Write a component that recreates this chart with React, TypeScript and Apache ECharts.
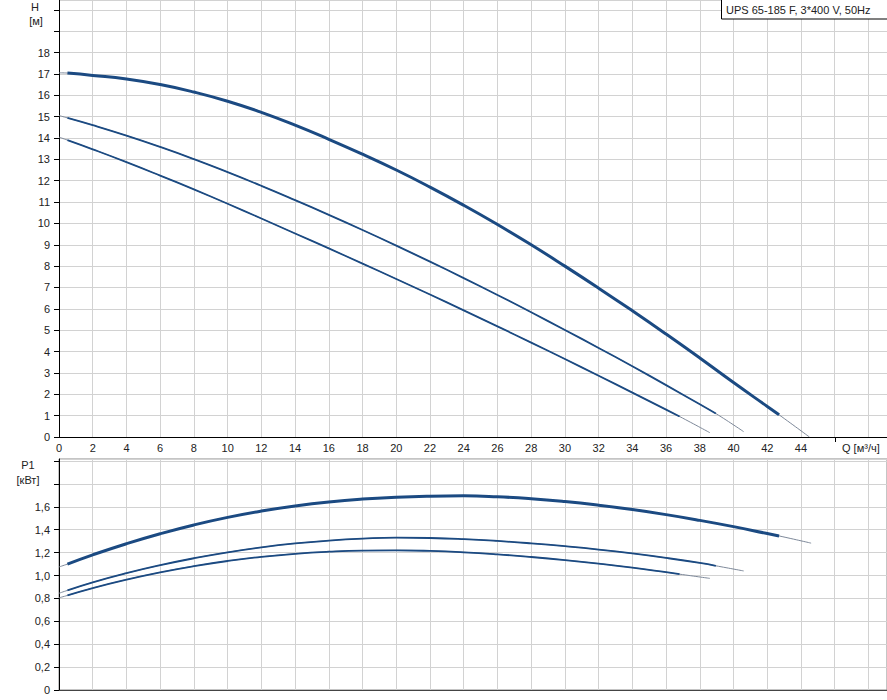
import React, { useEffect, useRef } from 'react';
import * as echarts from 'echarts';

// ---- data ----
const qH1 = [0, 0.5, 2, 4, 6, 8, 10, 12, 14, 16, 18, 20, 22, 24, 26, 28, 30, 32, 34, 36, 38, 40, 42, 42.7, 44.5];
const h1 = [17.05, 17.04, 16.93, 16.76, 16.5, 16.15, 15.72, 15.2, 14.6, 13.94, 13.24, 12.5, 11.7, 10.85, 9.95, 9.0, 8.0, 6.97, 5.91, 4.82, 3.7, 2.55, 1.43, 1.04, 0];

const qH2 = [0, 0.5, 2, 4, 6, 8, 10, 12, 14, 16, 18, 20, 22, 24, 26, 28, 30, 32, 34, 36, 38, 38.95, 40.6];
const h2 = [15.05, 14.94, 14.6, 14.11, 13.58, 13.01, 12.4, 11.76, 11.09, 10.4, 9.69, 8.96, 8.21, 7.44, 6.65, 5.84, 5.01, 4.17, 3.31, 2.43, 1.53, 1.1, 0.25];

const qH3 = [0, 0.5, 2, 4, 6, 8, 10, 12, 14, 16, 18, 20, 22, 24, 26, 28, 30, 32, 34, 36, 36.8, 38.6];
const h3 = [14.04, 13.9, 13.47, 12.87, 12.24, 11.59, 10.92, 10.23, 9.53, 8.83, 8.12, 7.4, 6.67, 5.93, 5.18, 4.42, 3.65, 2.87, 2.08, 1.28, 0.96, 0.2];

const qP1 = [0, 0.5, 2, 4, 6, 8, 10, 12, 14, 16, 18, 20, 22, 24, 26, 28, 30, 32, 34, 36, 38, 40, 42, 42.7, 44.6];
const p1 = [1.075, 1.1, 1.181, 1.278, 1.365, 1.442, 1.508, 1.563, 1.608, 1.643, 1.668, 1.684, 1.693, 1.696, 1.688, 1.671, 1.646, 1.614, 1.576, 1.532, 1.482, 1.427, 1.367, 1.346, 1.283];

const qP2 = [0, 0.5, 2, 4, 6, 8, 10, 12, 14, 16, 18, 20, 22, 24, 26, 28, 30, 32, 34, 36, 38, 38.95, 40.6];
const p2 = [0.845, 0.87, 0.94, 1.02, 1.09, 1.151, 1.203, 1.246, 1.28, 1.305, 1.322, 1.331, 1.328, 1.318, 1.302, 1.281, 1.256, 1.227, 1.193, 1.154, 1.11, 1.085, 1.04];

const qP3 = [0, 0.5, 2, 4, 6, 8, 10, 12, 14, 16, 18, 20, 22, 24, 26, 28, 30, 32, 34, 36, 36.8, 38.6];
const p3 = [0.805, 0.826, 0.89, 0.964, 1.028, 1.082, 1.127, 1.163, 1.19, 1.208, 1.218, 1.22, 1.215, 1.203, 1.185, 1.162, 1.135, 1.104, 1.069, 1.029, 1.012, 0.975];

// thick (operating) ranges of each curve
const thick1 = [0.5, 42.7];
const thick2 = [0.5, 38.95];
const thick3 = [0.5, 36.8];

const title = 'UPS 65-185 F, 3*400 V, 50Hz';
const hName = ['H', '[м]'];
const pName = ['P1', '[кВт]'];
const qName = 'Q [м³/ч]';

const X_MAX = 49.1;
const H_MAX = 20.46;
const P_MAX = 2.018;
const H_LABEL_MAX = 18;
const P_LABEL_MAX = 1.7;
const Q_LABEL_MAX = 44;

const FONT = "'Liberation Sans', Arial, sans-serif";
const BLUE = '#1b4a82';
const THIN = '#7d8899';
const GRIDC = '#d2d2d2';

function pairs(q: number[], v: number[]) {
  return q.map((x, i) => [x, v[i]]);
}
function part(q: number[], v: number[], r: number[]) {
  return pairs(q, v).filter((p) => p[0] >= r[0] - 1e-9 && p[0] <= r[1] + 1e-9);
}

function lineSeries(data: number[][], gi: number, width: number, color: string, z: number) {
  return {
    type: 'line',
    xAxisIndex: gi,
    yAxisIndex: gi,
    data,
    smooth: 0.5,
    symbol: 'none',
    showSymbol: false,
    silent: true,
    z,
    lineStyle: { width, color, cap: 'butt' },
  };
}

export default function App() {
  const ref = useRef<HTMLDivElement>(null);
  useEffect(() => {
    document.body.style.margin = '0';
    if (!ref.current) return;
    const chart = echarts.init(ref.current, null, { renderer: 'svg' });
    const baseX = (gi: number, showLabels: boolean, lineColor: string) => ({
      type: 'value',
      gridIndex: gi,
      min: 0,
      max: X_MAX,
      interval: 2,
      axisLine: { show: true, onZero: false, lineStyle: { color: lineColor, width: 1 } },
      axisTick: { show: false },
      axisLabel: {
        show: showLabels,
        margin: 5,
        fontSize: 11,
        fontFamily: FONT,
        color: '#222',
        showMaxLabel: false,
        formatter: (v: number) => (v > Q_LABEL_MAX + 0.01 ? '' : String(Math.round(v))),
      },
      splitLine: { show: true, lineStyle: { color: GRIDC, width: 1 } },
    });
    const baseY = (gi: number, max: number, interval: number, fmt: (v: number) => string) => ({
      type: 'value',
      gridIndex: gi,
      min: 0,
      max,
      interval,
      axisLine: { show: true, onZero: false, lineStyle: { color: '#000', width: 1 } },
      axisTick: { show: true, inside: false, length: 5, lineStyle: { color: '#000', width: 1 } },
      axisLabel: { margin: 9, fontSize: 11, fontFamily: FONT, color: '#222', showMaxLabel: false, formatter: fmt },
      splitLine: { show: true, lineStyle: { color: GRIDC, width: 1 } },
    });
    const option: any = {
      animation: false,
      backgroundColor: '#fff',
      grid: [
        { left: 59, right: 0, top: 0, height: 437, containLabel: false, outerBoundsMode: 'none' },
        {
          left: 59, right: 0, top: 459, height: 231, containLabel: false, outerBoundsMode: 'none',
          show: true, borderColor: '#8a8a8a', borderWidth: 1, backgroundColor: 'transparent',
        },
      ],
      xAxis: [baseX(0, true, '#000'), baseX(1, false, '#444')],
      yAxis: [
        baseY(0, H_MAX, 1, (v: number) => (v > H_LABEL_MAX + 0.01 ? '' : String(Math.round(v)))),
        baseY(1, P_MAX, 0.2, (v: number) =>
          v > P_LABEL_MAX ? '' : v < 1e-6 ? '0' : v.toFixed(1).replace('.', ',')
        ),
      ],
      series: [
        lineSeries(pairs(qH1, h1), 0, 1, THIN, 2),
        lineSeries(pairs(qH2, h2), 0, 1, THIN, 2),
        lineSeries(pairs(qH3, h3), 0, 1, THIN, 2),
        lineSeries(part(qH1, h1, thick1), 0, 3, BLUE, 3),
        lineSeries(part(qH2, h2, thick2), 0, 1.8, BLUE, 3),
        lineSeries(part(qH3, h3, thick3), 0, 1.8, BLUE, 3),
        lineSeries(pairs(qP1, p1), 1, 1, THIN, 2),
        lineSeries(pairs(qP2, p2), 1, 1, THIN, 2),
        lineSeries(pairs(qP3, p3), 1, 1, THIN, 2),
        lineSeries(part(qP1, p1, thick1), 1, 3, BLUE, 3),
        lineSeries(part(qP2, p2, thick2), 1, 1.8, BLUE, 3),
        lineSeries(part(qP3, p3, thick3), 1, 1.8, BLUE, 3),
      ],
    };
    chart.setOption(option);

    const tickX = chart.convertToPixel({ xAxisIndex: 0 }, Q_LABEL_MAX + 2) as number;
    const axisY = chart.convertToPixel({ yAxisIndex: 0 }, 0) as number;
    const txt = (s: string, x: number, y: number, align: string) => ({
      type: 'text',
      x,
      y,
      z: 20,
      style: { text: s, fill: '#222', font: `11px ${FONT}`, align, verticalAlign: 'middle' },
    });
    chart.setOption({
      graphic: [
        {
          type: 'line',
          z: 20,
          shape: { x1: Math.round(tickX) + 0.5, y1: axisY, x2: Math.round(tickX) + 0.5, y2: axisY + 5 },
          style: { stroke: '#000', lineWidth: 1 },
        },
        txt(qName, 842, axisY + 11, 'left'),
        txt(hName[0], 35, 7, 'center'),
        txt(hName[1], 36, 21, 'center'),
        txt(pName[0], 28, 465, 'center'),
        txt(pName[1], 28, 480, 'center'),
        {
          type: 'rect',
          z: 30,
          shape: { x: 721.5, y: -1.5, width: 180, height: 20.5 },
          style: { fill: '#fff', stroke: '#000', lineWidth: 1 },
        },
        { ...txt(title, 726, 9.5, 'left'), z: 31 },
      ],
    });
    return () => chart.dispose();
  }, []);
  return <div ref={ref} style={{ width: 887, height: 700 }} />;
}
